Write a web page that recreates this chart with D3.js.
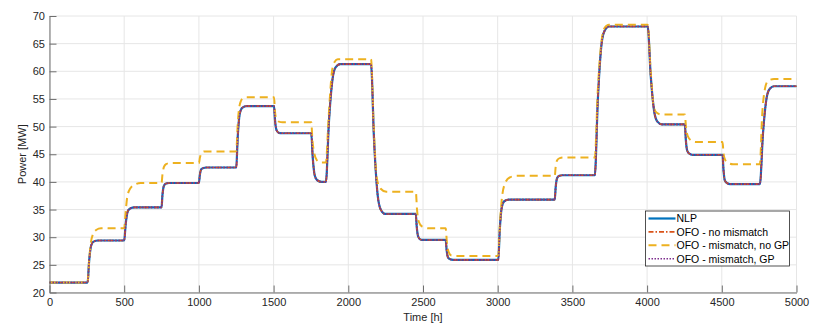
<!DOCTYPE html>
<html>
<head>
<meta charset="utf-8">
<script src="https://cdn.jsdelivr.net/npm/d3@7"></script>
<style>
  html, body { margin: 0; padding: 0; background: #fff; }
  svg { display: block; font-family: "Liberation Sans", Arial, Helvetica, sans-serif; }
</style>
</head>
<body>
<svg id="chart" width="830" height="325"></svg>
<script>
// ---- data (time [h], power [MW]) ----
const xTicks = [0, 500, 1000, 1500, 2000, 2500, 3000, 3500, 4000, 4500, 5000];
const yTicks = [20, 25, 30, 35, 40, 45, 50, 55, 60, 65, 70];
const seriesNames = ["NLP", "OFO - no mismatch", "OFO - mismatch, no GP", "OFO - mismatch, GP"];

const nlp = [
  [0,21.8],
  [255,21.8],[265,25.6],[279,28.5],[295,29.2],[325,29.4],
  [500,29.4],[510,32.4],[524,34.7],[540,35.2],[570,35.4],
  [750,35.4],[756,37.6],[766,39.3],[780,39.7],[800,39.8],
  [1000,39.8],[1006,41.2],[1016,42.3],[1030,42.5],[1050,42.6],
  [1250,42.6],[1260,48.2],[1274,52.4],[1290,53.4],[1320,53.7],
  [1503,53.7],[1509,51.3],[1519,49.4],[1533,48.9],[1553,48.8],
  [1752,48.8],[1762,44.4],[1776,41.1],[1792,40.3],[1822,40.0],
  [1850,40.0],[1870,50.7],[1895,58.7],[1915,60.7],[1945,61.3],
  [2152,61.3],[2172,47.8],[2197,37.5],[2217,35.0],[2247,34.2],
  [2452,34.2],[2458,31.9],[2468,30.1],[2482,29.6],[2502,29.5],
  [2652,29.5],[2658,27.7],[2668,26.3],[2682,26.0],[2702,25.9],
  [3004,25.9],[3014,31.4],[3028,35.5],[3044,36.5],[3074,36.8],
  [3382,36.8],[3388,39.0],[3398,40.7],[3412,41.1],[3432,41.2],
  [3650,41.2],[3670,54.7],[3695,64.9],[3715,67.3],[3745,68.1],
  [4004,68.1],[4024,59.3],[4049,52.5],[4069,50.9],[4099,50.4],
  [4253,50.4],[4259,47.7],[4269,45.6],[4283,45.1],[4303,44.9],
  [4505,44.9],[4511,42.3],[4521,40.2],[4535,39.8],[4555,39.6],
  [4755,39.6],[4775,48.5],[4800,55.2],[4820,56.8],[4850,57.3],
  [5000,57.3]
];

const ofoNoMismatch = [
  [0,21.8],
  [255,21.8],[265,25.6],[279,28.5],[295,29.2],[325,29.4],
  [500,29.4],[510,32.4],[524,34.7],[540,35.2],[570,35.4],
  [750,35.4],[756,37.6],[766,39.3],[780,39.7],[800,39.8],
  [1000,39.8],[1006,41.2],[1016,42.3],[1030,42.5],[1050,42.6],
  [1250,42.6],[1260,48.2],[1274,52.4],[1290,53.4],[1320,53.7],
  [1503,53.7],[1509,51.3],[1519,49.4],[1533,48.9],[1553,48.8],
  [1752,48.8],[1762,44.4],[1776,41.1],[1792,40.3],[1822,40.0],
  [1850,40.0],[1870,50.7],[1895,58.7],[1915,60.7],[1945,61.3],
  [2152,61.3],[2172,47.8],[2197,37.5],[2217,35.0],[2247,34.2],
  [2452,34.2],[2458,31.9],[2468,30.1],[2482,29.6],[2502,29.5],
  [2652,29.5],[2658,27.7],[2668,26.3],[2682,26.0],[2702,25.9],
  [3004,25.9],[3014,31.4],[3028,35.5],[3044,36.5],[3074,36.8],
  [3382,36.8],[3388,39.0],[3398,40.7],[3412,41.1],[3432,41.2],
  [3650,41.2],[3670,54.7],[3695,64.9],[3715,67.3],[3745,68.1],
  [4004,68.1],[4024,59.3],[4049,52.5],[4069,50.9],[4099,50.4],
  [4253,50.4],[4259,47.7],[4269,45.6],[4283,45.1],[4303,44.9],
  [4505,44.9],[4511,42.3],[4521,40.2],[4535,39.8],[4555,39.6],
  [4755,39.6],[4775,48.5],[4800,55.2],[4820,56.8],[4850,57.3],
  [5000,57.3]
];

const ofoMismatchNoGP = [
  [0,21.8],
  [255,21.8],[265,25.6],[275,28.6],[292,30.6],[312,31.3],[345,31.6],
  [500,31.6],[508,34.0],[520,37.2],[540,38.8],[570,39.5],[610,39.8],
  [750,39.8],[756,41.3],[766,42.7],[780,43.2],[805,43.4],
  [1000,43.4],[1007,44.4],[1018,45.2],[1035,45.5],
  [1250,45.5],[1260,50.5],[1272,53.8],[1290,55.0],[1315,55.3],
  [1503,55.3],[1509,52.8],[1519,51.3],[1535,50.9],[1560,50.8],
  [1752,50.8],[1760,47.5],[1772,45.2],[1790,43.9],[1815,43.5],
  [1850,43.5],[1868,51.5],[1890,59.8],[1908,61.7],[1930,62.2],
  [2152,62.2],[2170,50.0],[2190,40.8],[2215,38.8],[2255,38.2],
  [2452,38.2],[2460,35.0],[2472,32.8],[2495,31.9],[2540,31.6],
  [2652,31.6],[2660,29.0],[2672,27.3],[2690,26.7],[2720,26.6],
  [3004,26.6],[3014,32.0],[3028,37.0],[3050,39.8],[3080,40.8],[3130,41.1],
  [3382,41.1],[3388,42.7],[3398,43.9],[3415,44.3],[3440,44.4],
  [3650,44.4],[3670,56.5],[3695,65.5],[3715,67.8],[3745,68.4],
  [4004,68.4],[4024,60.0],[4045,53.5],[4065,52.5],[4095,52.2],
  [4253,52.2],[4260,50.0],[4272,48.3],[4295,47.5],[4325,47.2],
  [4505,47.2],[4511,45.3],[4522,44.0],[4545,43.4],[4575,43.2],
  [4755,43.2],[4770,52.0],[4790,57.0],[4810,58.3],[4850,58.6],
  [5000,58.6]
];

const ofoMismatchGP = [
  [0,21.8],
  [255,21.8],[265,25.6],[279,28.5],[295,29.2],[325,29.4],
  [500,29.4],[510,32.4],[524,34.7],[540,35.2],[570,35.4],
  [750,35.4],[756,37.6],[766,39.3],[780,39.7],[800,39.8],
  [1000,39.8],[1006,41.2],[1016,42.3],[1030,42.5],[1050,42.6],
  [1250,42.6],[1260,48.2],[1274,52.4],[1290,53.4],[1320,53.7],
  [1503,53.7],[1509,51.3],[1519,49.4],[1533,48.9],[1553,48.8],
  [1752,48.8],[1762,44.4],[1776,41.1],[1792,40.3],[1822,40.0],
  [1850,40.0],[1870,50.7],[1895,58.7],[1915,60.7],[1945,61.3],
  [2152,61.3],[2172,47.8],[2197,37.5],[2217,35.0],[2247,34.2],
  [2452,34.2],[2458,31.9],[2468,30.1],[2482,29.6],[2502,29.5],
  [2652,29.5],[2658,27.7],[2668,26.3],[2682,26.0],[2702,25.9],
  [3004,25.9],[3014,31.4],[3028,35.5],[3044,36.5],[3074,36.8],
  [3382,36.8],[3388,39.0],[3398,40.7],[3412,41.1],[3432,41.2],
  [3650,41.2],[3670,54.7],[3695,64.9],[3715,67.3],[3745,68.1],
  [4004,68.1],[4024,59.3],[4049,52.5],[4069,50.9],[4099,50.4],
  [4253,50.4],[4259,47.7],[4269,45.6],[4283,45.1],[4303,44.9],
  [4505,44.9],[4511,42.3],[4521,40.2],[4535,39.8],[4555,39.6],
  [4755,39.6],[4775,48.5],[4800,55.2],[4820,56.8],[4850,57.3],
  [5000,57.3]
];

// ---- layout ----
const W = 830, H = 325;
const margin = { left: 49.5, right: 33.5, top: 16, bottom: 32.5 };
const svg = d3.select("#chart");

const x = d3.scaleLinear().domain([0, 5000]).range([margin.left, W - margin.right]);
const y = d3.scaleLinear().domain([20, 70]).range([H - margin.bottom, margin.top]);

// grid
const grid = svg.append("g");
grid.selectAll("line.vg").data(xTicks).enter().append("line")
  .attr("x1", d => x(d)).attr("x2", d => x(d))
  .attr("y1", y(20)).attr("y2", y(70))
  .attr("stroke", "#e6e6e6").attr("stroke-width", 1);
grid.selectAll("line.hg").data(yTicks).enter().append("line")
  .attr("x1", x(0)).attr("x2", x(5000))
  .attr("y1", d => y(d)).attr("y2", d => y(d))
  .attr("stroke", "#e6e6e6").attr("stroke-width", 1);

// lines
const styles = [
  { data: nlp, color: "#0072BD", width: 2.2, dash: null },
  { data: ofoNoMismatch, color: "#D95319", width: 1.6, dash: "5,2,1.5,2" },
  { data: ofoMismatchNoGP, color: "#EDB120", width: 2, dash: "8,5" },
  { data: ofoMismatchGP, color: "#7E2F8E", width: 1.6, dash: "1.5,1.5" }
];
const line = d3.line().x(d => x(d[0])).y(d => y(d[1])).curve(d3.curveMonotoneX);
const plot = svg.append("g");
styles.forEach(s => {
  plot.append("path").datum(s.data)
    .attr("d", line)
    .attr("fill", "none")
    .attr("stroke", s.color)
    .attr("stroke-width", s.width)
    .attr("stroke-dasharray", s.dash)
    .attr("stroke-linejoin", "round");
});

// axes
const axisColor = "#262626";
const xAxis = d3.axisBottom(x).tickValues(xTicks).tickFormat(d3.format("d")).tickSizeInner(-7).tickSizeOuter(0).tickPadding(6);
const yAxis = d3.axisLeft(y).tickValues(yTicks).tickFormat(d3.format("d")).tickSizeInner(-7).tickSizeOuter(0).tickPadding(4.5);

const gx = svg.append("g").attr("transform", `translate(0,${y(20)})`).call(xAxis);
const gy = svg.append("g").attr("transform", `translate(${x(0)},0)`).call(yAxis);
[gx, gy].forEach(g => {
  g.select(".domain").attr("stroke", "#6e6e6e").attr("stroke-width", 1);
  g.selectAll(".tick line").attr("stroke", "#6e6e6e").attr("stroke-width", 1);
  g.selectAll(".tick text").attr("fill", axisColor).attr("font-size", 11)
    .attr("font-family", "'Liberation Sans', Arial, sans-serif");
});

// axis labels
svg.append("text")
  .attr("x", (x(0) + x(5000)) / 2).attr("y", 321)
  .attr("text-anchor", "middle").attr("font-size", 11).attr("fill", axisColor)
  .text("Time [h]");
svg.append("text")
  .attr("transform", `translate(26,${(y(20) + y(70)) / 2}) rotate(-90)`)
  .attr("text-anchor", "middle").attr("font-size", 11).attr("fill", axisColor)
  .text("Power [MW]");

// legend
const lg = svg.append("g").attr("transform", "translate(645.5,211)");
lg.append("rect").attr("width", 144).attr("height", 55)
  .attr("fill", "#fff").attr("stroke", "#262626").attr("stroke-width", 0.8);
styles.forEach((s, i) => {
  const yy = 7.5 + i * 13.4;
  lg.append("line").attr("x1", 3).attr("x2", 30).attr("y1", yy).attr("y2", yy)
    .attr("stroke", s.color).attr("stroke-width", s.width)
    .attr("stroke-dasharray", s.dash);
  lg.append("text").attr("x", 31).attr("y", yy + 3.8)
    .attr("font-size", 10.5).attr("fill", "#000").text(seriesNames[i]);
});
</script>
</body>
</html>
